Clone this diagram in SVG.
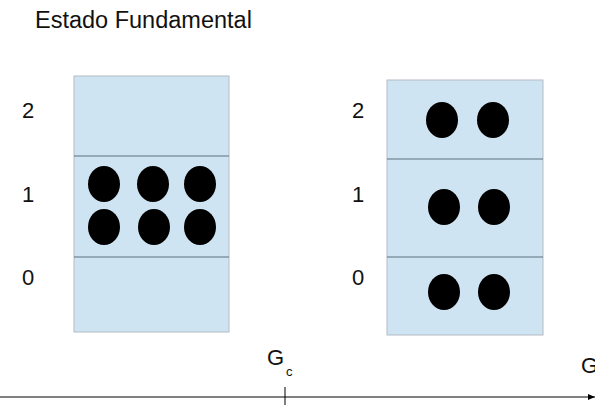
<svg xmlns="http://www.w3.org/2000/svg" width="595" height="405" viewBox="0 0 595 405">
<style>
text{font-family:"Liberation Sans",Arial,sans-serif;fill:#111}
.box{fill:#cfe4f2;stroke:#b4bcc4;stroke-width:1}
.div{stroke:#5f6e7c;stroke-width:1.2}
.e{fill:#000}
.lvl{font-size:22px}
</style>
<defs>
<marker id="ah" markerWidth="8" markerHeight="8" refX="7" refY="4" orient="auto" markerUnits="userSpaceOnUse">
<path d="M0,1 L7,4 L0,7 Z" fill="#000"/>
</marker>
</defs>
<rect width="595" height="405" fill="#fff"/>
<text x="35" y="28" font-size="23.5">Estado Fundamental</text>
<g id="left">
<rect class="box" x="74" y="76" width="155" height="256"/>
<line class="div" x1="74" y1="156" x2="229" y2="156"/>
<line class="div" x1="74" y1="257" x2="229" y2="257"/>
<ellipse class="e" cx="104" cy="184" rx="16" ry="18"/>
<ellipse class="e" cx="153" cy="184" rx="16" ry="18"/>
<ellipse class="e" cx="200" cy="184" rx="16" ry="18"/>
<ellipse class="e" cx="104" cy="227" rx="16" ry="18"/>
<ellipse class="e" cx="154" cy="227" rx="16" ry="18"/>
<ellipse class="e" cx="200" cy="227" rx="16" ry="18"/>
<text class="lvl" x="22" y="118">2</text>
<text class="lvl" x="22" y="202">1</text>
<text class="lvl" x="22" y="285">0</text>
</g>
<g id="right">
<rect class="box" x="387" y="80" width="156" height="255"/>
<line class="div" x1="387" y1="159" x2="543" y2="159"/>
<line class="div" x1="387" y1="257" x2="543" y2="257"/>
<ellipse class="e" cx="442" cy="120" rx="16" ry="18"/>
<ellipse class="e" cx="493" cy="120" rx="16" ry="18"/>
<ellipse class="e" cx="444" cy="207" rx="16" ry="18"/>
<ellipse class="e" cx="494" cy="207" rx="16" ry="18"/>
<ellipse class="e" cx="444" cy="292" rx="16" ry="18"/>
<ellipse class="e" cx="494" cy="292" rx="16" ry="18"/>
<text class="lvl" x="352" y="118">2</text>
<text class="lvl" x="352" y="202">1</text>
<text class="lvl" x="352" y="285">0</text>
</g>
<g id="connectors">
<line x1="0" y1="397" x2="595" y2="397" stroke="#000" stroke-width="1" marker-end="url(#ah)"/>
<line x1="285" y1="387" x2="285" y2="405" stroke="#000" stroke-width="1"/>
</g>
<g id="labels">
<text x="267" y="365" font-size="22">G</text>
<text x="286" y="376" font-size="13">c</text>
<text x="581" y="373" font-size="22">G</text>
</g>
</svg>
